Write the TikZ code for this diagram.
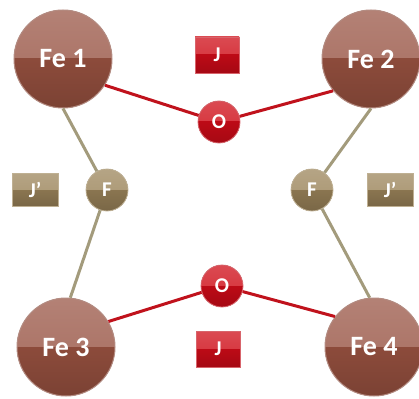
\documentclass[tikz,border=0pt]{standalone}
\usepackage{fontspec}
\setmainfont{Carlito}
\usetikzlibrary{positioning}

\definecolor{feTop}{HTML}{A66B5D}
\definecolor{feBot}{HTML}{8C4B3B}
\definecolor{feRim}{HTML}{B48C82}
\definecolor{oxTop}{HTML}{D42A33}
\definecolor{oxBot}{HTML}{BC0A16}
\definecolor{oxRim}{HTML}{D8646B}
\definecolor{flTop}{HTML}{A8946F}
\definecolor{flBot}{HTML}{8A7550}
\definecolor{flRim}{HTML}{BFB093}
\definecolor{bondRed}{HTML}{C0121C}
\definecolor{bondTan}{HTML}{A39B7C}

\tikzset{
  glossy/.style 2 args={path picture={
      \fill[top color=#1!85!white, bottom color=#1]
        (path picture bounding box.north west) rectangle (path picture bounding box.east);
      \fill[top color=#2, bottom color=#2!88!black]
        (path picture bounding box.west) rectangle (path picture bounding box.south east);
    }},
  ligtext/.style={text=white, font=\bfseries\fontsize{21}{21}\selectfont},
}

\begin{document}
\begin{tikzpicture}[
    x=1pt, y=-1pt,
    iron/.style={circle, minimum size=98pt, inner sep=0pt, draw=feRim, line width=1pt,
      glossy={feTop}{feBot}, text=white, font=\bfseries\fontsize{28}{28}\selectfont},
    oxygen/.style={circle, minimum size=42pt, inner sep=0pt, draw=oxRim, line width=0.8pt,
      glossy={oxTop}{oxBot}, ligtext},
    fluor/.style={circle, minimum size=42pt, inner sep=0pt, draw=flRim, line width=0.8pt,
      glossy={flTop}{flBot}, ligtext},
    jbox/.style={rectangle, minimum width=44pt, minimum height=36pt, inner sep=0pt,
      draw=oxRim, line width=0.6pt, glossy={oxTop}{oxBot}, ligtext},
    jpbox/.style={rectangle, minimum width=46pt, minimum height=33pt, inner sep=0pt,
      draw=flRim, line width=0.6pt, glossy={flTop}{flBot}, ligtext},
    redbond/.style={draw=bondRed, line width=3pt},
    tanbond/.style={draw=bondTan, line width=3pt}
]
\useasboundingbox (0,0) rectangle (419,398);

% iron centres
\node[iron] (fe1) at (63,59) {Fe 1};
\node[iron] (fe2) at (371,59) {Fe 2};
\node[iron] (fe3) at (66,347) {Fe 3};
\node[iron] (fe4) at (374,347) {Fe 4};

% bridging ligands
\node[oxygen] (o1) at (219,122) {O};
\node[oxygen] (o2) at (222,286) {O};
\node[fluor] (f1) at (107,190) {F};
\node[fluor] (f2) at (312,190) {F};

% coupling labels
\node[jbox] (j1) at (217,55) {J};
\node[jbox] (j2) at (218,349) {J};
\node[jpbox] (jp1) at (35,190) {J’};
\node[jpbox] (jp2) at (390,190) {J’};

% bonds
\draw[redbond] (fe1.-32) -- (o1);
\draw[redbond] (o1) -- (fe2.220);
\draw[redbond] (fe3.31) -- (o2);
\draw[redbond] (o2) -- (fe4.142);
\draw[tanbond] (fe1.south) -- (f1);
\draw[tanbond] (f1) -- (fe3.85);
\draw[tanbond] (fe2.south) -- (f2);
\draw[tanbond] (f2) -- (fe4.95);
\end{tikzpicture}
\end{document}
